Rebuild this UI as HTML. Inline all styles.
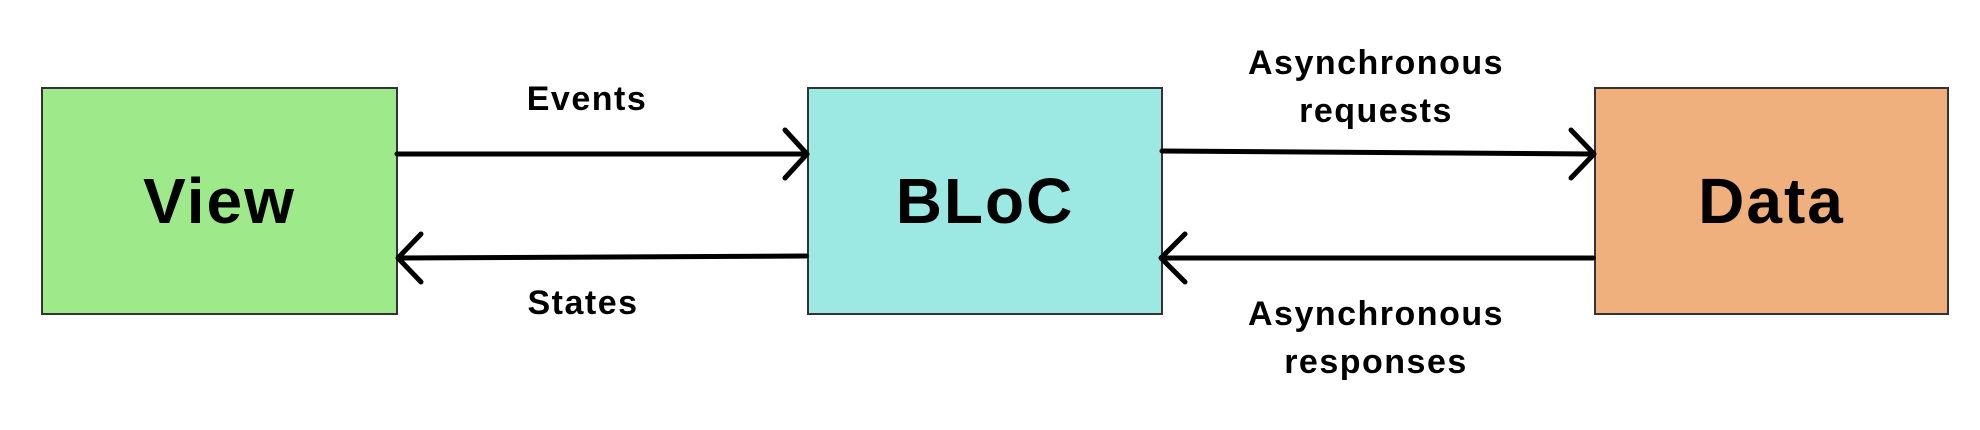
<!DOCTYPE html>
<html><head><style>
html,body{margin:0;padding:0;background:#fff;}
body{width:1980px;height:430px;position:relative;overflow:hidden;font-family:"Liberation Sans",sans-serif;font-weight:bold;}
.box{position:absolute;top:87px;height:224px;border:2px solid #333;box-sizing:content-box;display:flex;align-items:center;justify-content:center;font-size:64px;letter-spacing:2px;color:#000;}
.lbl{position:absolute;font-size:34px;letter-spacing:1.5px;text-align:center;line-height:48px;transform:translateX(-50%);white-space:nowrap;}
</style></head><body>
<div class="box" style="left:41px;width:353px;background:#9eea8a;">View</div>
<div class="box" style="left:807px;width:352px;background:#9ce9e3;">BLoC</div>
<div class="box" style="left:1594px;width:351px;background:#f0b07e;">Data</div>
<svg width="1980" height="430" style="position:absolute;left:0;top:0" fill="none" stroke="#000" stroke-width="5" stroke-linecap="round" stroke-linejoin="round">
<line x1="397" y1="154" x2="806" y2="154"/>
<polyline points="785,130 807,154 785,178"/>
<line x1="806" y1="256" x2="399" y2="258"/>
<polyline points="421,234 398,258 421,282"/>
<line x1="1162" y1="151" x2="1593" y2="154"/>
<polyline points="1571,130 1594,154 1571,178"/>
<line x1="1593" y1="258" x2="1162" y2="258"/>
<polyline points="1185,234 1161,258 1185,282"/>
</svg>
<div class="lbl" style="left:587px;top:75px;">Events</div>
<div class="lbl" style="left:583px;top:279px;">States</div>
<div class="lbl" style="left:1376px;top:39px;">Asynchronous<br>requests</div>
<div class="lbl" style="left:1376px;top:290px;">Asynchronous<br>responses</div>
</body></html>
